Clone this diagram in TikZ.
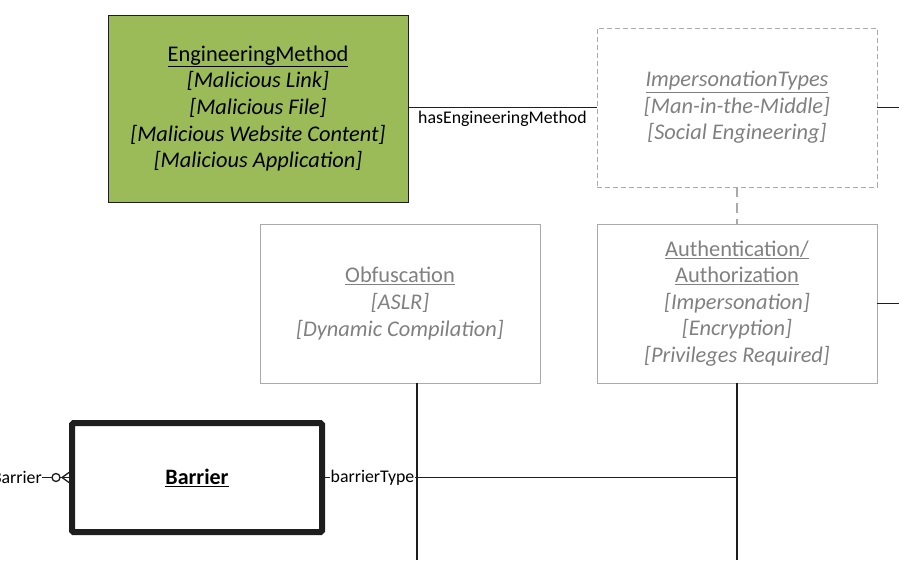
\documentclass[tikz,border=0pt]{standalone}
\usepackage{fontspec}
\setmainfont{Carlito}
\definecolor{greenfill}{RGB}{155,187,89}
\definecolor{graytext}{RGB}{128,128,128}
\definecolor{grayline}{RGB}{170,170,170}
\definecolor{darkline}{RGB}{30,30,30}
\begin{document}
\begin{tikzpicture}[x=1pt,y=-1pt,
  boxtext/.style={align=center,font=\fontsize{22.4}{26.6}\selectfont,inner sep=0pt},
  greenbox/.style={boxtext,draw=darkline,fill=greenfill,line width=0.8pt,minimum width=300pt,minimum height=187pt},
  graybox/.style={boxtext,draw=grayline,text=graytext,line width=0.9pt,minimum width=280pt,minimum height=159pt},
  grayboxdash/.style={graybox,dashed,dash pattern=on 5pt off 3pt},
  barrierbox/.style={boxtext,draw=darkline,line width=6pt,rounded corners=1.5pt,minimum width=250pt,minimum height=109pt,font=\fontsize{22}{26}\selectfont\bfseries},
  conn/.style={draw=darkline,line width=1.7pt},
  thinconn/.style={draw=darkline,line width=1.3pt},
  lbl/.style={font=\fontsize{17.8}{20}\selectfont,inner sep=1pt}
]
\useasboundingbox (0,0) rectangle (899,560);

\node[greenbox] (em) at (258,108.5) {\underline{EngineeringMethod}\\ \textit{[Malicious Link]}\\ \textit{[Malicious File]}\\ \textit{[Malicious Website Content]}\\ \textit{[Malicious Application]}};
\node[grayboxdash] (imp) at (737,107.5) {\underline{\textit{ImpersonationTypes}}\\ \textit{[Man-in-the-Middle]}\\ \textit{[Social Engineering]}};
\node[graybox] (obf) at (400,303.5) {\underline{Obfuscation}\\ \textit{[ASLR]}\\ \textit{[Dynamic Compilation]}};
\node[graybox] (auth) at (737,303.5) {\underline{Authentication/}\\ \underline{Authorization}\\ \textit{[Impersonation]}\\ \textit{[Encryption]}\\ \textit{[Privileges Required]}};
\node[barrierbox] (bar) at (197,477.5) {\underline{Barrier}};

\coordinate (impout) at (899,107.5);
\coordinate (authout) at (899,303.5);
\coordinate (obfbot) at (417,560);
\coordinate (authbot) at (737,560);
\coordinate (junc) at (737,477.5);
\coordinate (leftend) at (42,477.5);

% connectors
\draw[thinconn] (em.east |- imp.west) -- node[lbl,below=2pt] {hasEngineeringMethod} (imp.west);
\draw[thinconn] (imp.east) -- (impout);
\draw[draw=grayline,line width=1.4pt,dash pattern=on 10pt off 6pt] (imp.south) -- (auth.north);
\draw[conn] (auth.east) -- (authout);
\draw[conn] (obf.south -| obfbot) -- (obfbot);
\draw[conn] (auth.south) -- (authbot);
\draw[conn] (bar.east) -- (junc);
\node[lbl,fill=white,anchor=west,inner sep=0.5pt] (bt) at ([xshift=5pt]bar.east) {barrierType};

% left crow's foot (zero or many)
\node[lbl,anchor=east,inner sep=0pt] (lb) at (leftend) {Barrier};
\draw[thinconn] (lb.east |- leftend) -- (52,477.5);
\draw[thinconn] (56,477.5) circle (4pt);
\draw[thinconn] (60,477.5) -- (bar.west);
\draw[thinconn] (62,477.5) -- (69,472.5);
\draw[thinconn] (62,477.5) -- (69,482.5);
\end{tikzpicture}
\end{document}
